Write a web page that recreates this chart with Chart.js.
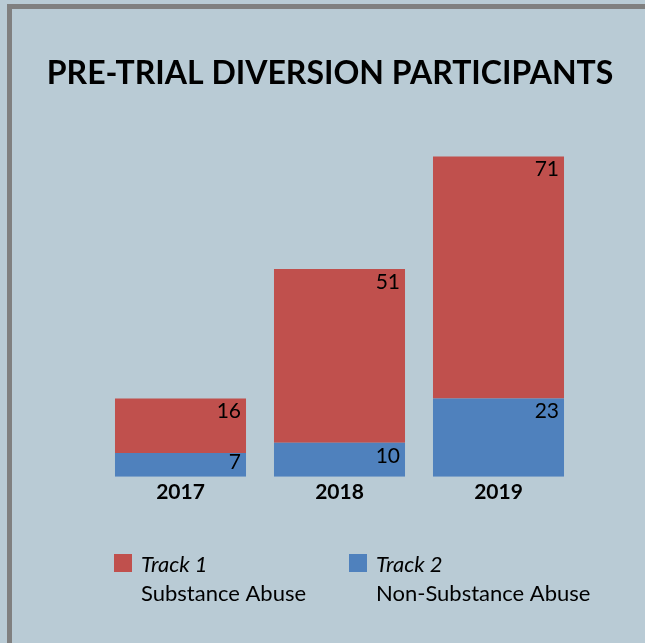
<!DOCTYPE html>
<html>
<head>
<meta charset="utf-8">
<script src="https://cdn.jsdelivr.net/npm/chart.js@4"></script>
<style>
    html, body { margin: 0; padding: 0; background: #b9cbd5; }
    #frame {
        position: absolute; left: 7px; top: 4px; width: 638px; height: 639px;
        border-left: 5px solid #808080; border-top: 5px solid #808080;
        box-sizing: border-box;
    }
    #wrap { position: absolute; left: 0; top: 0; width: 645px; height: 643px; }
</style>
</head>
<body>
<div id="frame"></div>
<div id="wrap"><canvas id="diversionChart" width="645" height="643"></canvas></div>
<script>
const chartTitle = 'PRE-TRIAL DIVERSION PARTICIPANTS';
const years = ['2017', '2018', '2019'];
const track1 = [16, 51, 71]; // Substance Abuse
const track2 = [7, 10, 23];  // Non-Substance Abuse
const seriesNames = ['Track 1', 'Track 2'];
const seriesNotes = ['Substance Abuse', 'Non-Substance Abuse'];
const seriesColors = ['#c0504d', '#4f81bd'];

const FONT = 'Lato, "Open Sans", sans-serif';

// draws title, value labels and the two-line legend
const extrasPlugin = {
    id: 'extras',
    afterDraw(chart) {
        const ctx = chart.ctx;
        ctx.save();
        ctx.fillStyle = '#000';

        // title
        ctx.font = 'bold 32px ' + FONT;
        ctx.textAlign = 'center';
        ctx.textBaseline = 'alphabetic';
        ctx.fillText(chartTitle, 330, 84);

        // value labels, top-right inside each segment
        ctx.font = '21px ' + FONT;
        ctx.textAlign = 'right';
        chart.data.datasets.forEach((ds, i) => {
            chart.getDatasetMeta(i).data.forEach((bar, j) => {
                const right = bar.x + bar.width / 2 - 5;
                const h = Math.abs(bar.base - bar.y);
                ctx.fillText(ds.data[j], right, bar.y + Math.min(20, h * 0.67));
            });
        });

        // legend
        const legendX = [114, 349];
        ctx.textAlign = 'left';
        seriesNames.forEach((name, i) => {
            ctx.fillStyle = seriesColors[i];
            ctx.fillRect(legendX[i], 554, 18, 18);
            ctx.fillStyle = '#000';
            ctx.font = 'italic 22px ' + FONT;
            ctx.fillText(name, legendX[i] + 27, 572);
            ctx.font = '22px ' + FONT;
            ctx.fillText(seriesNotes[i], legendX[i] + 27, 601);
        });
        ctx.restore();
    }
};

new Chart(document.getElementById('diversionChart'), {
    type: 'bar',
    data: {
        labels: years,
        datasets: [
            { label: seriesNames[1], data: track2, backgroundColor: seriesColors[1] },
            { label: seriesNames[0], data: track1, backgroundColor: seriesColors[0] }
        ]
    },
    options: {
        responsive: false,
        animation: false,
        layout: { padding: { left: 101, right: 67, top: 136, bottom: 135 } },
        datasets: { bar: { categoryPercentage: 1, barPercentage: 0.824 } },
        plugins: {
            legend: { display: false },
            tooltip: { enabled: false }
        },
        scales: {
            x: {
                stacked: true,
                grid: { display: false, drawTicks: false },
                border: { display: false },
                ticks: { color: '#000', padding: 3, font: { family: FONT, size: 21, weight: 'bold' } }
            },
            y: {
                stacked: true,
                display: false,
                min: 0,
                max: 100
            }
        }
    },
    plugins: [extrasPlugin]
});
</script>
</body>
</html>
